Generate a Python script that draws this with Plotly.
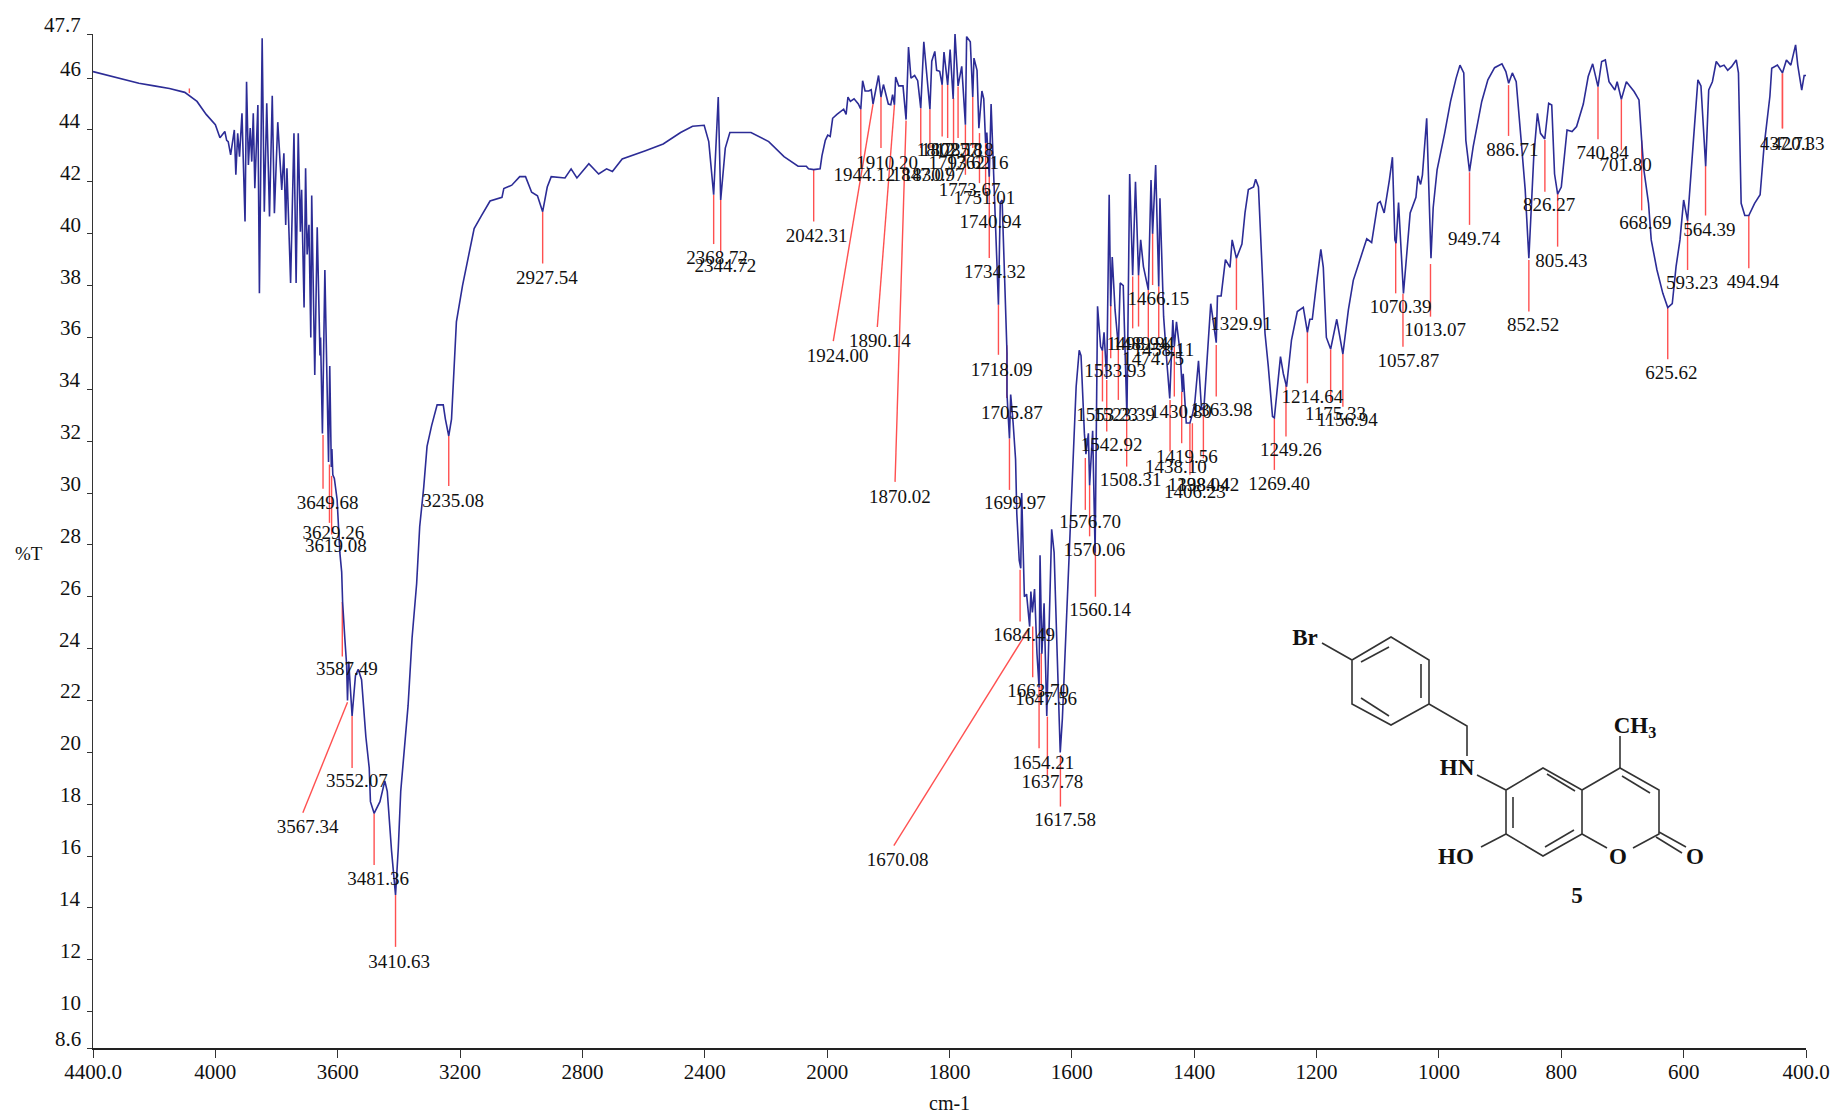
import plotly.graph_objects as go

# tick marks of the %T axis and of the (two-scale) wavenumber axis
y_ticks = [8.6, 10, 12, 14, 16, 18, 20, 22, 24, 26, 28, 30, 32, 34, 36, 38, 40, 42, 44, 46, 47.7]
y_tick_text = ["8.6", "10", "12", "14", "16", "18", "20", "22", "24", "26", "28", "30", "32", "34", "36", "38", "40", "42", "44", "46", "47.7"]
x_ticks = [4400, 4000, 3600, 3200, 2800, 2400, 2000, 1800, 1600, 1400, 1200, 1000, 800, 600, 400]
x_tick_text = ["4400.0", "4000", "3600", "3200", "2800", "2400", "2000", "1800", "1600", "1400", "1200", "1000", "800", "600", "400.0"]

# spectrum
wn_flat = [4400, 4350, 4300, 4250, 4200, 4150, 4100, 4060, 4030, 4000, 3985]
t_flat = [46.25, 46.1, 45.95, 45.8, 45.7, 45.6, 45.45, 45.1, 44.6, 44.2, 43.7]

wn_noise = [3969, 3963, 3958, 3950, 3945, 3938, 3933, 3927, 3921, 3913, 3903, 3898, 3892, 3886, 3881, 3876, 3871, 3861, 3856, 3847,
            3840, 3832, 3823, 3814, 3807, 3796, 3783, 3776, 3770, 3766, 3754, 3743, 3736, 3729, 3722, 3718, 3710, 3705, 3700, 3694,
            3688, 3685, 3675, 3667, 3658, 3656, 3650, 3642, 3630, 3626, 3621, 3619, 3616]
t_noise = [43.94, 43.6, 43.55, 43.04, 43.42, 44.0, 42.27, 43.87, 42.97, 44.64, 40.47, 45.86, 42.65, 44.07, 42.78, 44.64, 41.75, 44.96, 37.7, 47.54,
           40.85, 45.03, 40.66, 45.32, 40.79, 44.3, 41.69, 43.1, 40.34, 42.52, 38.1, 43.87, 38.1, 43.87, 40.08, 41.69, 37.15, 42.52, 39.2, 40.34,
           36.0, 41.47, 34.55, 40.25, 35.3, 36.0, 32.3, 38.6, 31.2, 34.9, 31.0, 31.7, 30.7]

wn_oh = [3611, 3602, 3593, 3587, 3584, 3577, 3571, 3568, 3564, 3553, 3542, 3533, 3522, 3508, 3497, 3493, 3481, 3462, 3446, 3438,
         3424, 3411, 3402, 3394, 3384, 3370, 3357, 3342, 3332, 3319, 3308, 3293, 3275, 3255, 3248, 3237, 3228, 3212, 3192, 3173,
         3154, 3130, 3102, 3063, 3057, 3031, 3005, 2986, 2966, 2947, 2930, 2915, 2902, 2857, 2837, 2818, 2779, 2747, 2721, 2702]
t_oh = [30.56, 29.75, 27.7, 26.95, 25.8, 24.44, 23.4, 22.0, 23.5, 21.4, 22.96, 23.2, 22.8, 20.6, 19.4, 18.1, 17.65, 18.1, 18.9, 18.5,
        16.2, 14.5, 16.3, 18.5, 20.0, 21.8, 24.4, 26.5, 28.7, 30.2, 31.8, 32.6, 33.4, 33.4, 32.85, 32.2, 32.85, 36.6, 38.0, 39.06,
        40.2, 40.7, 41.26, 41.4, 41.74, 41.87, 42.2, 42.2, 41.6, 41.46, 40.85, 41.8, 42.2, 42.15, 42.5, 42.15, 42.7, 42.3, 42.5, 42.4]

wn_mid = [2670, 2594, 2536, 2479, 2440, 2402, 2387, 2371, 2356, 2348, 2333, 2318, 2249, 2191, 2141, 2095, 2088, 2068, 2061, 2044,
          2023, 2017, 2006, 1999, 1995, 1991, 1984, 1973, 1969, 1966, 1962, 1956, 1949, 1945, 1942, 1938, 1932, 1928, 1925, 1921,
          1916, 1912, 1908, 1900, 1896, 1893, 1890, 1888, 1883, 1876, 1871, 1867, 1863, 1857, 1852, 1847, 1842, 1837, 1832, 1829,
          1824, 1821, 1816, 1812, 1809, 1803, 1799, 1794, 1791, 1786, 1780, 1774, 1772, 1766, 1762, 1760, 1755, 1752, 1747, 1744,
          1741, 1739, 1735, 1732, 1720, 1717, 1714]
t_mid = [42.88, 43.2, 43.46, 43.9, 44.14, 44.18, 43.55, 41.5, 45.27, 41.3, 43.3, 43.9, 43.9, 43.55, 42.97, 42.6, 42.6, 42.6, 42.5, 42.47,
         42.5, 43.0, 43.6, 43.8, 43.75, 44.45, 44.6, 44.8, 44.6, 45.27, 45.1, 45.2, 45.0, 44.8, 45.9, 45.5, 45.5, 45.55, 45.0, 45.5,
         46.1, 45.27, 45.75, 45.0, 44.97, 45.36, 44.97, 46.04, 45.7, 45.7, 44.4, 47.2, 46.0, 46.1, 45.9, 44.84, 47.4, 46.1, 44.8, 46.65,
         47.03, 46.3, 46.26, 45.74, 47.0, 45.74, 47.1, 45.2, 47.7, 45.7, 46.45, 44.2, 47.6, 47.4, 45.27, 46.77, 46.3, 44.07, 45.5, 45.2,
         43.5, 43.9, 42.2, 45.0, 37.26, 41.2, 41.3]

wn_cc = [1706, 1706, 1702, 1700, 1696, 1692, 1690, 1686, 1683.5, 1682, 1677.6, 1674, 1669, 1667, 1664.5, 1661, 1657, 1653.6, 1652, 1649,
         1645.4, 1641, 1633, 1629, 1624, 1619, 1615.5, 1611, 1603, 1600, 1593, 1588, 1585, 1579.5, 1577, 1573, 1571, 1566, 1562, 1558,
         1553, 1550, 1547.4, 1543, 1539, 1536.5, 1534, 1529.4, 1524, 1521, 1516, 1510, 1505.5, 1500.6, 1496, 1491, 1487.5, 1483, 1475, 1470.6,
         1468, 1463, 1458, 1456, 1450, 1445, 1440, 1435, 1432.5, 1429, 1423, 1419.4, 1418, 1413, 1407, 1402.5, 1399, 1393, 1388, 1384,
         1373, 1364, 1362, 1356, 1349, 1341.5, 1338, 1331, 1322, 1317, 1311.5, 1303, 1299.6, 1295, 1290, 1284.3, 1279, 1272, 1269, 1259,
         1254.3, 1249, 1241, 1231.5, 1221.7, 1215, 1211, 1207, 1200, 1193, 1189, 1184, 1177, 1167, 1157, 1148, 1140, 1129, 1118, 1110]
t_cc = [35.4, 33.8, 32.1, 33.8, 32.7, 31.3, 29.2, 27.4, 27.1, 30.0, 26.0, 26.1, 24.85, 26.2, 25.4, 26.3, 23.8, 22.5, 27.6, 23.8,
        25.75, 21.4, 28.6, 27.7, 23.8, 20.0, 21.3, 23.8, 28.3, 30.5, 34.1, 35.5, 35.3, 32.3, 31.5, 32.3, 30.3, 32.4, 27.7, 37.2,
        35.65, 35.5, 36.2, 34.4, 41.5, 37.2, 39.1, 37.06, 35.65, 38.1, 38.0, 32.95, 42.3, 38.4, 42.0, 38.4, 39.76, 38.73, 37.83, 42.07,
        40.0, 42.65, 37.96, 41.37, 36.8, 35.13, 33.65, 36.67, 35.65, 36.6, 35.4, 33.9, 34.6, 32.7, 32.7, 33.07, 33.5, 35.1, 33.2, 33.33,
        37.3, 35.8, 37.6, 37.6, 39.0, 38.7, 39.76, 39.05, 39.6, 40.8, 41.7, 41.8, 42.1, 41.8, 39.4, 36.16, 34.9, 32.95, 32.9, 35.26,
        34.6, 34.1, 35.9, 37.0, 37.16, 36.2, 36.7, 36.7, 38.1, 39.4, 38.7, 36.0, 35.55, 36.7, 35.36, 37.06, 38.2, 39.0, 39.8, 39.66]

wn_low = [1100, 1096, 1089.5, 1081, 1076, 1072, 1070, 1066, 1062.6, 1058, 1053, 1047, 1037.6, 1034.4, 1030, 1027, 1020, 1013, 1009.4, 1003,
          990.7, 981, 972, 965.6, 959.4, 956, 950, 944, 930, 920, 909, 897, 890.6, 886, 880, 873.7, 865.6, 859, 853, 845,
          839, 834, 827, 820.6, 815.6, 811, 806, 800, 790.6, 782.4, 775, 764, 756, 748.7, 740, 734, 728, 722, 712.4, 708.7,
          701.8, 693.6, 681, 673, 668.6, 665, 657.4, 653, 643.6, 634, 626, 618.6, 612.4, 606, 600, 593.6, 584, 576.7, 571.7, 564,
          559, 553, 546.7, 540.4, 534, 528, 521.7, 514, 510.4, 506, 500, 493.5, 484, 475, 468.6, 459, 456, 446.7, 438.5, 432,
          424.8, 417, 413.5, 407, 403, 400]
t_low = [41.17, 41.24, 40.8, 42.07, 42.95, 39.76, 39.63, 41.2, 39.76, 37.7, 39.1, 40.8, 41.4, 42.23, 41.9, 42.26, 44.45, 39.05, 41.0, 42.46,
         43.87, 45.1, 45.99, 46.5, 46.2, 43.6, 42.4, 43.36, 45.1, 45.93, 46.4, 46.55, 46.25, 45.8, 46.2, 45.86, 43.6, 41.7, 39.05, 42.97,
         44.64, 43.87, 43.65, 45.03, 44.96, 42.3, 41.53, 41.8, 44.0, 43.94, 44.13, 45.0, 46.06, 46.55, 45.67, 46.64, 46.7, 45.86, 45.54, 45.86,
         45.18, 45.86, 45.48, 45.16, 43.6, 42.46, 41.17, 39.76, 38.6, 37.7, 37.15, 37.3, 38.73, 39.76, 41.3, 40.5, 43.6, 45.93, 45.7, 42.6,
         45.54, 45.86, 46.64, 46.44, 46.5, 46.3, 46.44, 46.7, 46.2, 41.17, 40.7, 40.7, 41.17, 41.5, 43.36, 45.3, 46.38, 46.5, 46.2, 46.7,
         46.5, 47.28, 46.5, 45.54, 46.1, 46.1]

# peak picks: text, where the red line starts and stops, where the text sits
peak_text = ["3649.68", "3629.26", "3619.08", "3587.49", "3567.34", "3552.07", "3481.36", "3410.63", "3235.08", "2927.54",
             "2368.72", "2344.72", "2042.31", "1944.12", "1924.00", "1910.20", "1890.14", "1870.02", "1847.07", "1830.97",
             "1812.77", "1802.18", "1793.62", "1785.18", "1773.67", "1762.16", "1751.01", "1740.94", "1734.32", "1718.09",
             "1705.87", "1699.97", "1684.49", "1670.08", "1663.70", "1654.21", "1647.56", "1637.78", "1617.58", "1576.70",
             "1570.06", "1560.14", "1553.23", "1542.92", "1533.93", "1523.39", "1508.31", "1498.94", "1489.94", "1474.75",
             "1466.15", "1458.11", "1438.10", "1430.80", "1419.56", "1406.23", "1398.04", "1384.42", "1363.98", "1329.91",
             "1269.40", "1249.26", "1214.64", "1175.33", "1156.94", "1070.39", "1057.87", "1013.07", "949.74", "886.71",
             "852.52", "826.27", "805.43", "740.84", "701.80", "668.69", "625.62", "593.23", "564.39", "494.94",
             "437.71", "420.33"]
peak_wn = [3648, 3627, 3620, 3585, 3568, 3553, 3481, 3411, 3237, 2930,
           2371, 2348, 2044, 1945, 1925, 1912, 1890, 1871, 1847, 1832,
           1812, 1803, 1793.4, 1786, 1774, 1762, 1751, 1741, 1735, 1720,
           1706.4, 1702, 1684.6, 1669.4, 1664, 1653.6, 1650, 1640, 1618.7, 1578,
           1571, 1561.5, 1550, 1543, 1536.5, 1524, 1510.4, 1500.6, 1491, 1475,
           1468, 1458, 1439.5, 1432.5, 1420.5, 1407, 1403, 1385, 1364, 1331,
           1269, 1250, 1215, 1177, 1157, 1070.7, 1058.8, 1013.8, 950, 886.2,
           853, 826.8, 806, 740, 701.8, 668.6, 626, 593.6, 564.2, 493.5,
           438.5, 438.5]
peak_top = [32.24, 31.1, 30.66, 25.8, 21.93, 21.4, 17.65, 14.5, 32.2, 40.85,
            41.5, 41.3, 42.47, 44.8, 45.0, 45.27, 44.97, 44.36, 44.84, 44.8,
            45.74, 45.74, 45.23, 45.68, 44.2, 45.27, 43.88, 43.5, 42.85, 37.26,
            35.7, 32.1, 27.04, 24.79, 24.85, 22.54, 23.83, 21.38, 19.9, 31.35,
            30.32, 27.94, 35.52, 34.36, 37.25, 35.65, 33.01, 38.35, 38.41, 37.83,
            40.02, 37.96, 33.59, 35.65, 33.91, 32.69, 32.69, 33.33, 35.71, 39.05,
            32.88, 34.17, 36.22, 35.54, 35.36, 39.69, 37.68, 38.83, 42.37, 45.73,
            38.99, 43.61, 41.53, 45.67, 45.18, 43.6, 37.15, 40.53, 42.61, 40.72,
            46.18, 46.18]
peak_end_wn = [3648, 3627, 3620, 3585, 3714, 3553, 3481, 3411, 3237, 2930,
               2371, 2348, 2044, 1945, 1990, 1912, 1918, 1889, 1847, 1832,
               1812, 1803, 1793.4, 1786, 1774, 1762, 1751, 1741, 1735, 1720,
               1706.4, 1702, 1684.6, 1891, 1664, 1653.6, 1650, 1640, 1618.7, 1578,
               1571, 1561.5, 1550, 1543, 1536.5, 1524, 1510.4, 1500.6, 1491, 1475,
               1468, 1458, 1439.5, 1432.5, 1420.5, 1407, 1403, 1385, 1364, 1331,
               1269, 1250, 1215, 1177, 1157, 1070.7, 1058.8, 1013.8, 950, 886.2,
               853, 826.8, 806, 740, 701.8, 668.6, 626, 593.6, 564.2, 493.5,
               438.5, 438.5]
peak_end = [30.16, 28.85, 28.4, 23.7, 17.67, 19.4, 15.66, 12.5, 30.27, 38.85,
            39.6, 39.26, 40.47, 42.72, 35.86, 43.3, 36.4, 30.43, 43.3, 43.3,
            43.75, 43.69, 43.3, 43.69, 42.27, 43.3, 41.95, 41.5, 39.06, 35.33,
            33.66, 30.12, 25.05, 16.4, 22.9, 20.16, 22.16, 19.07, 17.91, 29.35,
            28.33, 26.0, 33.53, 32.37, 35.2, 33.59, 31.02, 36.35, 36.42, 35.84,
            38.02, 35.97, 31.6, 33.72, 31.92, 30.7, 30.83, 31.34, 33.72, 37.06,
            30.89, 32.18, 34.23, 33.53, 33.33, 37.7, 35.64, 36.8, 40.34, 43.77,
            37.0, 41.62, 39.5, 43.64, 43.23, 40.9, 35.16, 38.6, 40.7, 38.67,
            44.06, 44.06]
label_wn = [3633, 3614, 3606, 3570, 3698, 3537, 3468, 3399, 3223, 2916,
            2360, 2333, 2034, 1939, 1983, 1902, 1914, 1881, 1844, 1826,
            1803, 1796, 1784, 1778, 1767, 1754, 1743, 1733, 1726, 1715,
            1698, 1693, 1678, 1885, 1655, 1646.5, 1642, 1632, 1611, 1570,
            1563, 1554, 1542.5, 1535, 1529.4, 1514.7, 1504, 1492.4, 1483, 1467,
            1458.6, 1450, 1430, 1422, 1412, 1399, 1393, 1377, 1355, 1323.5,
            1261.4, 1242, 1207, 1169, 1150, 1062.6, 1050, 1006.3, 942.5, 880,
            846, 820, 800, 732.4, 695, 662.4, 620, 586, 558, 487,
            432.3, 412.3]
label_t = [29.57, 28.4, 27.9, 23.15, 17.08, 18.85, 15.05, 11.88, 29.66, 38.26,
           39.03, 38.7, 39.85, 42.23, 35.23, 42.66, 35.8, 29.8, 42.23, 42.23,
           43.17, 43.17, 42.66, 43.17, 41.63, 42.66, 41.31, 40.41, 38.48, 34.69,
           33.05, 29.57, 24.47, 15.8, 22.31, 19.55, 22.0, 18.81, 17.34, 28.84,
           27.75, 25.43, 32.95, 31.79, 34.64, 32.95, 30.44, 35.71, 35.71, 35.11,
           37.45, 35.45, 30.96, 33.08, 31.34, 30.0, 30.25, 30.25, 33.14, 36.48,
           30.31, 31.6, 33.65, 33.0, 32.75, 37.12, 35.03, 36.22, 39.76, 43.19,
           36.42, 41.04, 38.9, 43.07, 42.61, 40.36, 34.58, 38.05, 40.1, 38.09,
           43.42, 43.4]


def to_axis(w):
    # the instrument doubles the scale below 2000 cm-1
    return (4400 - w) / 400 if w >= 2000 else 6 + (2000 - w) / 200


wn = wn_flat + wn_noise + wn_oh + wn_mid + wn_cc + wn_low
t = t_flat + t_noise + t_oh + t_mid + t_cc + t_low

fig = go.Figure()

# red pick lines go under the spectrum
line_x, line_y = [], []
for i in range(len(peak_text)):
    line_x += [to_axis(peak_wn[i]), to_axis(peak_end_wn[i]), None]
    line_y += [peak_top[i], peak_end[i], None]
line_x += [to_axis(4085), to_axis(4085), None]
line_y += [45.6, 45.42, None]
fig.add_trace(go.Scatter(x=line_x, y=line_y, mode="lines", line=dict(color="#ff5050", width=1.4), hoverinfo="skip"))

fig.add_trace(go.Scatter(x=[to_axis(w) for w in wn], y=t, mode="lines", line=dict(color="#2c2c96", width=1.6)))

fig.add_trace(go.Scatter(x=[to_axis(w) for w in label_wn], y=label_t, mode="text", text=peak_text, cliponaxis=False,
                         textposition="middle center", textfont=dict(family="Liberation Serif", size=19, color="#111111"),
                         hoverinfo="skip"))

# structure of compound 5, drawn on a second pair of axes in page pixels
bonds = [
    [(1322, 643), (1352, 660), (1391, 637), (1429, 660), (1429, 704), (1391, 725), (1352, 704), (1352, 660)],
    [(1361, 662), (1389, 647)], [(1421, 664), (1421, 698)], [(1361, 698), (1389, 716)],
    [(1429, 704), (1467, 726), (1467, 756)],
    [(1477, 775), (1506, 790), (1543, 768), (1582, 790), (1582, 834), (1543, 856), (1506, 834), (1506, 790)],
    [(1547, 774), (1575, 791)], [(1513, 797), (1513, 828)], [(1545, 847), (1574, 830)],
    [(1582, 790), (1620, 768), (1659, 790), (1659, 834), (1633, 848)],
    [(1607, 848), (1582, 834)], [(1622, 776), (1650, 793)], [(1620, 768), (1620, 736)],
    [(1659, 832), (1686, 847)], [(1656, 837), (1682, 853)], [(1481, 847), (1506, 834)],
]
atom_text = ["Br", "HN", "HO", "O", "O", "CH<sub>3</sub>", "5"]
atom_x = [1305, 1457, 1456, 1618, 1695, 1635, 1577]
atom_y = [639, 769, 858, 858, 858, 727, 897]

bond_x, bond_y = [], []
for b in bonds:
    bond_x += [p[0] for p in b] + [None]
    bond_y += [p[1] for p in b] + [None]
fig.add_trace(go.Scatter(x=bond_x, y=bond_y, xaxis="x2", yaxis="y2", mode="lines",
                         line=dict(color="#333333", width=1.6), hoverinfo="skip"))
fig.add_trace(go.Scatter(x=atom_x, y=atom_y, xaxis="x2", yaxis="y2", mode="text", text=atom_text,
                         textposition="middle center", hoverinfo="skip",
                         textfont=dict(family="Liberation Serif", size=23, color="#111111", weight="bold")))

# %T tick labels sit a little above their ticks in the original
for v, s in zip(y_ticks, y_tick_text):
    fig.add_annotation(x=0, xref="paper", y=v, yref="y", text=s, showarrow=False, xanchor="right",
                       xshift=-10, yshift=9, font=dict(family="Liberation Serif", size=21, color="#111111"))
fig.add_annotation(x=-0.0374, xref="paper", y=0.488, yref="paper", text="%T", showarrow=False,
                   xanchor="center", yanchor="middle", font=dict(family="Liberation Serif", size=19, color="#111111"))
fig.add_annotation(x=0.5, xref="paper", y=-0.0542, yref="paper", text="cm-1", showarrow=False,
                   xanchor="center", yanchor="middle", font=dict(family="Liberation Serif", size=20, color="#111111"))

fig.update_layout(
    width=1840, height=1115, showlegend=False, plot_bgcolor="white", paper_bgcolor="white",
    margin=dict(l=93, r=34, t=34, b=67),
    xaxis=dict(range=[0, 14], tickvals=[to_axis(w) for w in x_ticks], ticktext=x_tick_text, ticks="outside", ticklen=8,
               tickcolor="#333333", showgrid=False, zeroline=False, showline=True, linecolor="#222222", linewidth=2,
               automargin=False, ticklabelstandoff=-4, tickfont=dict(family="Liberation Serif", size=21, color="#111111")),
    yaxis=dict(range=[8.6, 47.7], tickvals=y_ticks, showticklabels=False, ticks="outside", ticklen=5, automargin=False,
               tickcolor="#333333", showgrid=False, zeroline=False, showline=True, linecolor="#333333", linewidth=1),
    xaxis2=dict(range=[93, 1806], overlaying="x", visible=False),
    yaxis2=dict(range=[1048, 34], overlaying="y", visible=False),
)

fig.write_html("out.html", config={"displayModeBar": False}, post_script="document.body.style.margin='0';")
